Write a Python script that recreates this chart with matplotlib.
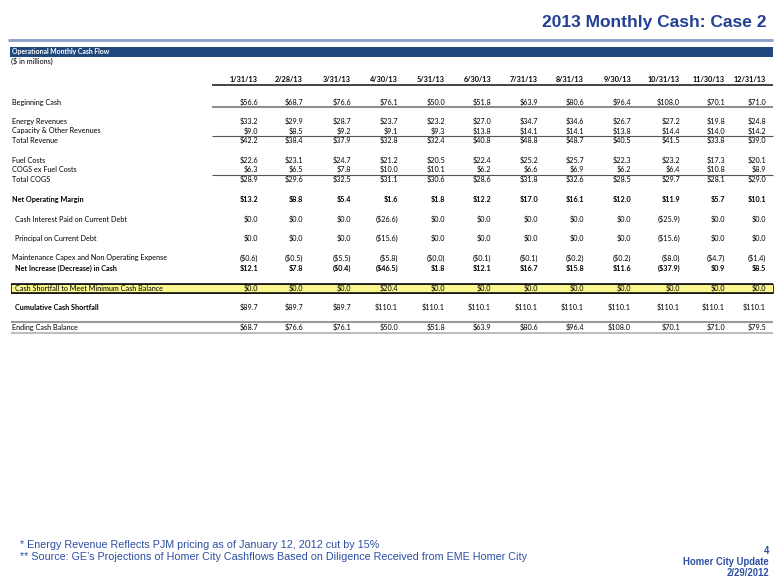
import numpy as np
import matplotlib
matplotlib.use("Agg")
import matplotlib.pyplot as plt
from matplotlib import font_manager
from matplotlib.patches import Rectangle

# ---------------- data ----------------
months = ['1/31/13', '2/28/13', '3/31/13', '4/30/13', '5/31/13', '6/30/13',
          '7/31/13', '8/31/13', '9/30/13', '10/31/13', '11/30/13', '12/31/13']
beginning_cash = [56.6, 68.7, 76.6, 76.1, 50.0, 51.8, 63.9, 80.6, 96.4, 108.0, 70.1, 71.0]
energy_revenues = [33.2, 29.9, 28.7, 23.7, 23.2, 27.0, 34.7, 34.6, 26.7, 27.2, 19.8, 24.8]
capacity_revenues = [9.0, 8.5, 9.2, 9.1, 9.3, 13.8, 14.1, 14.1, 13.8, 14.4, 14.0, 14.2]
total_revenue = [42.2, 38.4, 37.9, 32.8, 32.4, 40.8, 48.8, 48.7, 40.5, 41.5, 33.8, 39.0]
fuel_costs = [22.6, 23.1, 24.7, 21.2, 20.5, 22.4, 25.2, 25.7, 22.3, 23.2, 17.3, 20.1]
cogs_ex_fuel = [6.3, 6.5, 7.8, 10.0, 10.1, 6.2, 6.6, 6.9, 6.2, 6.4, 10.8, 8.9]
total_cogs = [28.9, 29.6, 32.5, 31.1, 30.6, 28.6, 31.8, 32.6, 28.5, 29.7, 28.1, 29.0]
net_operating_margin = [13.2, 8.8, 5.4, 1.6, 1.8, 12.2, 17.0, 16.1, 12.0, 11.9, 5.7, 10.1]
cash_interest = [0.0, 0.0, 0.0, -26.6, 0.0, 0.0, 0.0, 0.0, 0.0, -25.9, 0.0, 0.0]
principal = [0.0, 0.0, 0.0, -15.6, 0.0, 0.0, 0.0, 0.0, 0.0, -15.6, 0.0, 0.0]
maintenance_capex = [-0.6, -0.5, -5.5, -5.8, -0.0, -0.1, -0.1, -0.2, -0.2, -8.0, -4.7, -1.4]
net_increase = [12.1, 7.8, -0.4, -46.5, 1.8, 12.1, 16.7, 15.8, 11.6, -37.9, 0.9, 8.5]
cash_shortfall = [0.0, 0.0, 0.0, 20.4, 0.0, 0.0, 0.0, 0.0, 0.0, 0.0, 0.0, 0.0]
cumulative_shortfall = [89.7, 89.7, 89.7, 110.1, 110.1, 110.1, 110.1, 110.1, 110.1, 110.1, 110.1, 110.1]
ending_cash = [68.7, 76.6, 76.1, 50.0, 51.8, 63.9, 80.6, 96.4, 108.0, 70.1, 71.0, 79.5]

row_labels = ['Beginning Cash', 'Energy Revenues', 'Capacity & Other Revenues', 'Total Revenue',
              'Fuel Costs', 'COGS ex Fuel Costs', 'Total COGS', 'Net Operating Margin',
              'Cash Interest Paid on Current Debt', 'Principal on Current Debt',
              'Maintenance Capex and Non Operating Expense', 'Net Increase (Decrease) in Cash',
              'Cash Shortfall to Meet Minimum Cash Balance', 'Cumulative Cash Shortfall',
              'Ending Cash Balance']
row_values = [beginning_cash, energy_revenues, capacity_revenues, total_revenue,
              fuel_costs, cogs_ex_fuel, total_cogs, net_operating_margin,
              cash_interest, principal, maintenance_capex, net_increase,
              cash_shortfall, cumulative_shortfall, ending_cash]

title = '2013 Monthly Cash: Case 2'
section_title = 'Operational Monthly Cash Flow'
units = '($ in millions)'
footnotes = ['* Energy Revenue Reflects PJM pricing as of January 12, 2012 cut by 15%',
             "** Source: GE\u2019s Projections of Homer City Cashflows Based on Diligence Received from EME Homer City"]
page_info = ['4', 'Homer City Update', '2/29/2012']

# ---------------- layout (pixels) ----------------
row_y = [102, 121.5, 130.8, 140.3, 160.3, 169.6, 179.3, 199.8, 219.3, 238.6, 257.8, 268.3, 288.3, 307.3, 327.3]
row_x = [12.5, 12.5, 12.5, 12.5, 12.5, 12.5, 12.5, 12.5, 15, 15, 12.5, 15, 15, 15, 12.5]
label_bold = [False] * 7 + [True, False, False, False, True, False, True, False]
value_bold = [False] * 7 + [True, False, False, False, True, False, False, False]
col_right = [258, 303, 351, 398, 445, 491, 538, 584, 631, 680, 725, 766]
header_y = 79.5

available = {f.name for f in font_manager.fontManager.ttflist}
narrow = 'Liberation Sans Narrow' if 'Liberation Sans Narrow' in available else 'Liberation Sans'
table_font = 'Lato' if 'Lato' in available else 'DejaVu Sans'

W, H = 780, 585
fig = plt.figure(figsize=(W / 100, H / 100), dpi=100)
ax = fig.add_axes([0, 0, 1, 1])
ax.set_xlim(0, W)
ax.set_ylim(H, 0)
ax.axis('off')
renderer = fig.canvas.get_renderer()


def fit_size(text, family, weight, target_w, base=10.0):
    t = ax.text(0, 0, text, fontsize=base, family=family, weight=weight)
    w = t.get_window_extent(renderer).width
    t.remove()
    return base * target_w / w


def fmt(v):
    if v < 0 or (v == 0 and np.signbit(v)):
        return '(${:.1f})'.format(abs(v))
    return '${:.1f}'.format(v)


text_col = '#000000'
blue = '#223F92'
foot_blue = '#2D4FA3'

# title & divider
ts = fit_size(title, narrow, 'bold', 224)
ax.text(766, 23, title, fontsize=ts, family=narrow, weight='bold', color=blue,
        ha='right', va='center')
ax.plot([8, 773], [40, 40], color='#8A9CC8', lw=2.0, solid_capstyle='butt')

# section bar
ax.add_patch(Rectangle((10, 47), 763, 9.5, facecolor='#1F497D', edgecolor='none'))
fs = fit_size('Maintenance Capex and Non Operating Expense', table_font, 'normal', 155)
sfs = fit_size(section_title, table_font, 'bold', 98)
ax.text(12, 51.8, section_title, fontsize=sfs, family=table_font, weight='bold',
        color='white', ha='left', va='center')
ax.text(11, 61.5, units, fontsize=fs, family=table_font, color=text_col, ha='left', va='center')

# column headers
for x, m in zip(col_right, months):
    ax.text(x, header_y, m, fontsize=fs, family=table_font, weight='bold', color=text_col,
            ha='right', va='center')
ax.plot([212, 773], [85.3, 85.3], color='#111111', lw=1.1, solid_capstyle='butt')

# yellow highlight row
ax.add_patch(Rectangle((11, 283.5), 762, 9.4, facecolor='#FBF78F', edgecolor='#111111', lw=0.6))
ax.plot([11, 773], [283.5, 283.5], color='#111111', lw=1.2, solid_capstyle='butt')
ax.plot([11, 773], [292.9, 292.9], color='#111111', lw=1.2, solid_capstyle='butt')

# rule lines
ax.plot([212, 773], [107, 107], color='#8F8F8F', lw=1.5, solid_capstyle='butt')
ax.plot([212, 773], [135.5, 135.5], color='#555555', lw=0.8, solid_capstyle='butt')
ax.plot([212, 773], [174.5, 174.5], color='#555555', lw=0.8, solid_capstyle='butt')
ax.plot([11, 773], [321.5, 321.5], color='#9A9A9A', lw=1.5, solid_capstyle='butt')
ax.plot([11, 773], [332.5, 332.5], color='#BDBDBD', lw=1.5, solid_capstyle='butt')

# table body
for lab, vals, y, lx, lb, vb in zip(row_labels, row_values, row_y, row_x, label_bold, value_bold):
    ax.text(lx, y, lab, fontsize=fs, family=table_font, weight='bold' if lb else 'normal',
            color=text_col, ha='left', va='center')
    for x, v in zip(col_right, vals):
        ax.text(x, y, fmt(v), fontsize=fs, family=table_font,
                weight='bold' if vb else 'normal', color=text_col, ha='right', va='center')

# footnotes
ffs = fit_size(footnotes[1], narrow, 'normal', 503)
ax.text(20, 545, footnotes[0], fontsize=ffs, family=narrow, color=foot_blue, ha='left', va='center')
ax.text(20, 557, footnotes[1], fontsize=ffs, family=narrow, color=foot_blue, ha='left', va='center')

pfs = fit_size(page_info[1], narrow, 'bold', 86)
for txt, y in zip(page_info, [550.5, 562, 573.5]):
    ax.text(769, y, txt, fontsize=pfs, family=narrow, weight='bold', color=foot_blue,
            ha='right', va='center')

fig.savefig('out.png', dpi=100, facecolor='white')
